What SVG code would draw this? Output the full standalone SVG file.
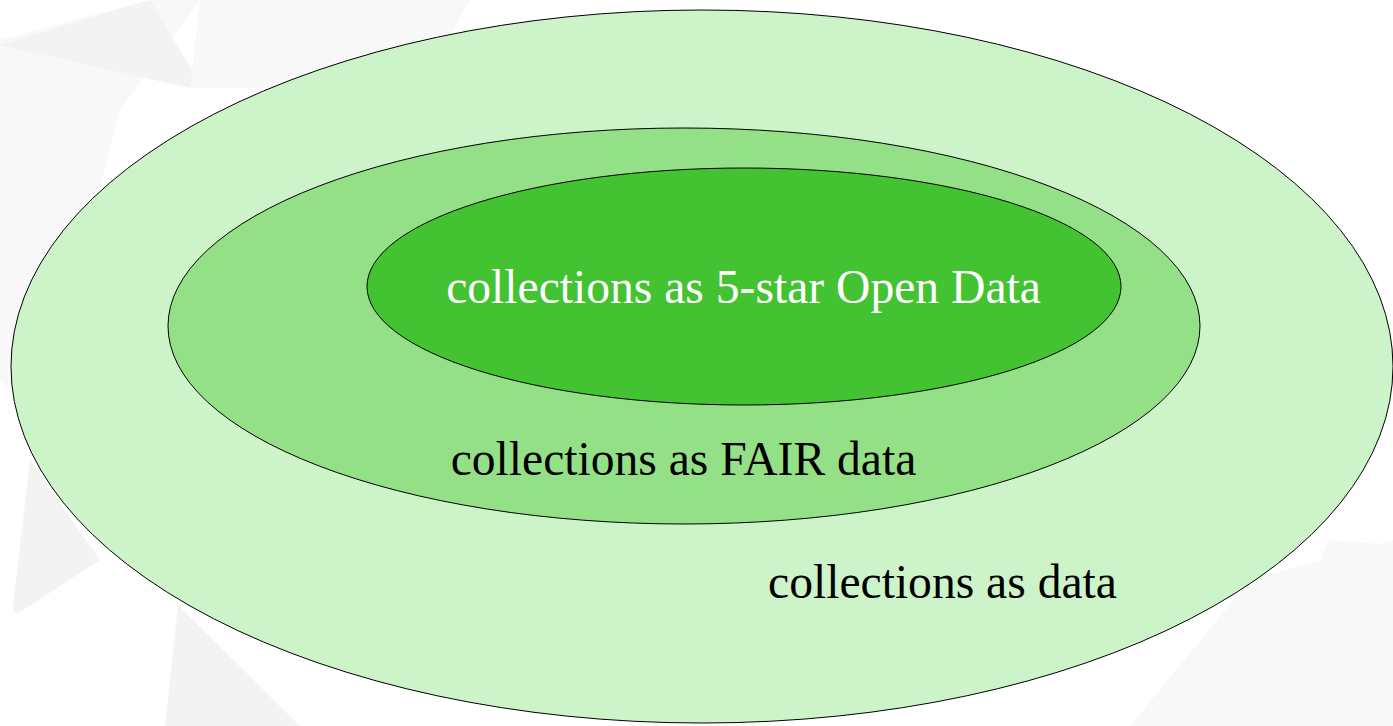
<svg xmlns="http://www.w3.org/2000/svg" width="1393" height="726" viewBox="0 0 1393 726">
  <style>
    .ring { stroke: #000000; stroke-width: 1; }
    .lbl { font-family: "Liberation Serif", "Times New Roman", serif; font-size: 47.6px; text-anchor: middle; }
    .bg1 { fill: #f3f3f3; }
    .bg2 { fill: #f8f8f8; }
  </style>
  <rect x="0" y="0" width="1393" height="726" fill="#ffffff"/>
  <g id="background">
    <path class="bg2" d="M0 40 L150 0 L200 0 L120 110 L40 420 L0 380 Z"/>
    <path class="bg1" d="M0 45 L150 0 L198 80 Q202 90 190 88 Z"/>
    <path class="bg2" d="M200 0 L470 0 L420 90 L190 88 Z"/>
    <path class="bg1" d="M30 460 L100 560 L20 612 Q12 616 13 606 Z"/>
    <path class="bg1" d="M178 605 L300 726 L165 726 Z"/>
    <path class="bg2" d="M1330 540 Q1325 545 1322 560 L1305 726 L1393 726 L1393 545 Z"/>
    <path class="bg2" d="M1250 580 L1393 540 L1393 726 L1130 726 Z"/>
  </g>
  <g id="outer">
    <ellipse class="ring" cx="702" cy="366.5" rx="691" ry="356.5" fill="#ccf4c8"/>
    <text class="lbl" x="942.5" y="598" fill="#000000">collections as data</text>
  </g>
  <g id="middle">
    <ellipse class="ring" cx="684" cy="326" rx="516" ry="198" fill="#94e086"/>
    <text class="lbl" x="683.5" y="475" fill="#000000">collections as FAIR data</text>
  </g>
  <g id="inner">
    <ellipse class="ring" cx="744" cy="286.5" rx="377" ry="118.5" fill="#44c332"/>
    <text class="lbl" x="743.5" y="303" fill="#ffffff">collections as 5-star Open Data</text>
  </g>
</svg>
